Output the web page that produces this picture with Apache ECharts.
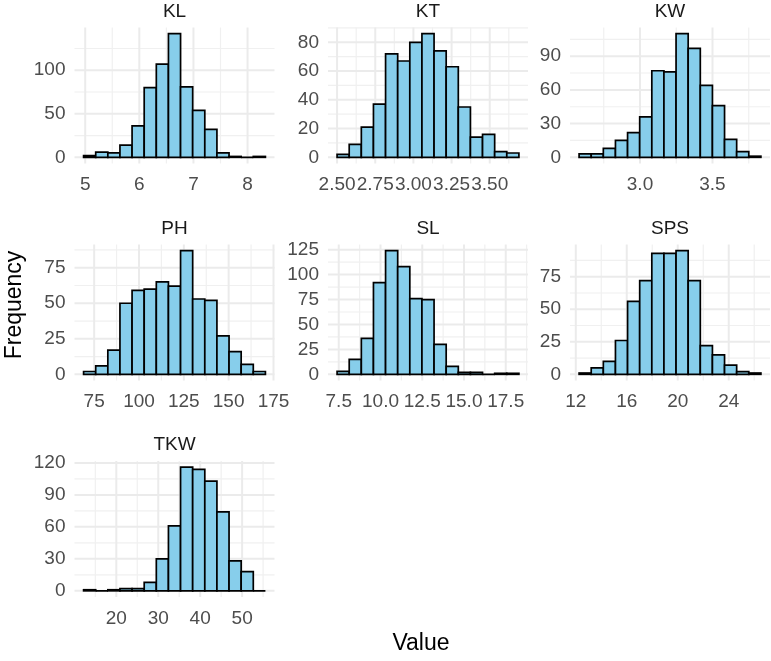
<!DOCTYPE html>
<html><head><meta charset="utf-8">
<script src="https://cdn.jsdelivr.net/npm/echarts@6/dist/echarts.min.js"></script>
<style>html,body{margin:0;padding:0;background:#fff}#c{width:771px;height:661px}</style>
</head><body><div id="c"></div>
<script>
// ---------------- data ----------------
const panelNames = ['KL', 'KT', 'KW', 'PH', 'SL', 'SPS', 'TKW'];

// histogram bins: first bin left edge and bin width for each panel (15 bins each)
const binStarts = [4.97, 2.50, 2.58, 69.1, 7.40, 12.26, 12.2];
const binWidths = [0.224, 0.0794, 0.0836, 6.76, 0.726, 0.951, 2.89];

const klCounts  = [2, 6, 5, 14, 36, 80, 107, 142, 81, 54, 32, 5, 1, 0, 1];
const ktCounts  = [2, 9, 21, 37, 72, 67, 80, 86, 74, 63, 35, 14, 16, 4, 3];
const kwCounts  = [3, 3, 8, 15, 22, 36, 77, 76, 110, 97, 64, 46, 16, 5, 1];
const phCounts  = [2, 6, 17, 50, 59, 60, 65, 62, 87, 53, 52, 27, 16, 7, 2];
const slCounts  = [3, 15, 36, 92, 124, 108, 76, 75, 30, 8, 2, 2, 0, 1, 1];
const spsCounts = [1, 5, 10, 26, 56, 72, 93, 93, 95, 72, 22, 15, 7, 2, 1];
const tkwCounts = [1, 0, 1, 2, 2, 8, 30, 61, 116, 114, 103, 74, 28, 18, 0];

// tick labels
const klXTicks  = ['5', '6', '7', '8'];
const ktXTicks  = ['2.50', '2.75', '3.00', '3.25', '3.50'];
const kwXTicks  = ['3.0', '3.5'];
const phXTicks  = ['75', '100', '125', '150', '175'];
const slXTicks  = ['7.5', '10.0', '12.5', '15.0', '17.5'];
const spsXTicks = ['12', '16', '20', '24'];
const tkwXTicks = ['20', '30', '40', '50'];

const klYTicks  = ['0', '50', '100'];
const ktYTicks  = ['0', '20', '40', '60', '80'];
const kwYTicks  = ['0', '30', '60', '90'];
const phYTicks  = ['0', '25', '50', '75'];
const slYTicks  = ['0', '25', '50', '75', '100', '125'];
const spsYTicks = ['0', '25', '50', '75'];
const tkwYTicks = ['0', '30', '60', '90', '120'];

const xAxisTitle = 'Value';
const yAxisTitle = 'Frequency';

// ---------------- layout / style ----------------
const allCounts = [klCounts, ktCounts, kwCounts, phCounts, slCounts, spsCounts, tkwCounts];
const allXTicks = [klXTicks, ktXTicks, kwXTicks, phXTicks, slXTicks, spsXTicks, tkwXTicks];
const allYTicks = [klYTicks, ktYTicks, kwYTicks, phYTicks, slYTicks, spsYTicks, tkwYTicks];

const colLefts = [74.5, 328, 570];
const rowTops = [27.5, 244.5, 461];
const panelW = 200, panelH = 136;
const FONT = "'Liberation Sans', Arial, Helvetica, sans-serif";
const tickFont = 19;

const chart = echarts.init(document.getElementById('c'), null, {renderer: 'canvas'});

const grids = [], xAxes = [], yAxes = [], series = [], graphics = [];

function minorBreaks(major, lo, hi) {
  const out = [];
  if (major.length < 2) return out;
  const d = major[1] - major[0];
  for (let v = major[0] - d / 2; v <= hi + 1e-9; v += d) {
    if (v >= lo - 1e-9 && v <= hi + 1e-9) out.push(v);
  }
  return out;
}

panelNames.forEach((name, i) => {
  const col = i % 3, row = Math.floor(i / 3);
  const left = colLefts[col], top = rowTops[row];
  const counts = allCounts[i];
  const start = binStarts[i], w = binWidths[i];
  const n = counts.length;
  const xLo0 = start, xHi0 = start + n * w;
  const xPad = 0.05 * (xHi0 - xLo0);
  const xMin = xLo0 - xPad, xMax = xHi0 + xPad;
  const cMax = Math.max(...counts);
  const yMin = -0.05 * cMax, yMax = 1.05 * cMax;

  const xTickVals = allXTicks[i].map(parseFloat);
  const yTickVals = allYTicks[i].map(parseFloat);
  const xDec = (allXTicks[i][0].split('.')[1] || '').length;
  const yDec = 0;

  grids.push({left: left, top: top, width: panelW, height: panelH, containLabel: false});
  xAxes.push({
    type: 'value', gridIndex: i, min: xMin, max: xMax,
    axisLine: {show: false}, axisTick: {show: false}, splitLine: {show: false},
    axisLabel: {
      customValues: xTickVals, margin: 12, fontSize: tickFont, fontFamily: FONT, color: '#4D4D4D',
      formatter: v => Number(v).toFixed(xDec)
    }
  });
  yAxes.push({
    type: 'value', gridIndex: i, min: yMin, max: yMax,
    axisLine: {show: false}, axisTick: {show: false}, splitLine: {show: false},
    axisLabel: {
      customValues: yTickVals, margin: 9, fontSize: tickFont, fontFamily: FONT, color: '#4D4D4D',
      formatter: v => Number(v).toFixed(yDec)
    }
  });

  // grid lines (major at ticks, minor halfway), drawn through the axis scales
  const gridData = [];
  const xMid = start + w, yMid = 0;
  minorBreaks(xTickVals, xMin, xMax).forEach(v => gridData.push([v, yMid, 0, 1]));
  minorBreaks(yTickVals, yMin, yMax).forEach(v => gridData.push([xMid, v, 1, 1]));
  xTickVals.forEach(v => gridData.push([v, yMid, 0, 0]));
  yTickVals.forEach(v => gridData.push([xMid, v, 1, 0]));

  series.push({
    type: 'custom', xAxisIndex: i, yAxisIndex: i, z: 1, silent: true, animation: false,
    data: gridData,
    renderItem: (params, api) => {
      const cs = params.coordSys;
      const p = api.coord([api.value(0), api.value(1)]);
      const vertical = api.value(2) === 0;
      const minor = api.value(3) === 1;
      const shape = vertical
        ? {x1: p[0], y1: cs.y, x2: p[0], y2: cs.y + cs.height}
        : {x1: cs.x, y1: p[1], x2: cs.x + cs.width, y2: p[1]};
      return {type: 'line', shape: shape, style: {stroke: minor ? '#F0F0F0' : '#EBEBEB', lineWidth: minor ? 1.2 : 2}};
    }
  });

  const barData = counts.map((c, k) => [start + k * w, start + (k + 1) * w, c]);
  series.push({
    type: 'custom', xAxisIndex: i, yAxisIndex: i, z: 2, animation: false,
    encode: {x: [0, 1], y: 2},
    data: barData,
    renderItem: (params, api) => {
      const p0 = api.coord([api.value(0), 0]);
      const p1 = api.coord([api.value(1), api.value(2)]);
      return {
        type: 'rect',
        shape: {x: p0[0], y: p1[1], width: p1[0] - p0[0], height: p0[1] - p1[1]},
        style: {fill: '#87CEEB', stroke: '#000000', lineWidth: 1.7}
      };
    }
  });

  graphics.push({
    type: 'text', left: 'auto', x: left + panelW / 2, y: top - 16,
    style: {text: name, x: 0, y: 0, align: 'center', verticalAlign: 'middle',
      font: tickFont + 'px ' + FONT, fill: '#1A1A1A'}
  });
});

graphics.push({
  type: 'text', x: 15, y: 305, rotation: Math.PI / 2,
  style: {text: yAxisTitle, align: 'center', verticalAlign: 'middle', font: '23px ' + FONT, fill: '#000'}
});
graphics.push({
  type: 'text', x: 421, y: 644,
  style: {text: xAxisTitle, align: 'center', verticalAlign: 'middle', font: '23px ' + FONT, fill: '#000'}
});

chart.setOption({
  backgroundColor: '#ffffff',
  animation: false,
  grid: grids,
  xAxis: xAxes,
  yAxis: yAxes,
  series: series,
  graphic: graphics
});
</script>
</body></html>
